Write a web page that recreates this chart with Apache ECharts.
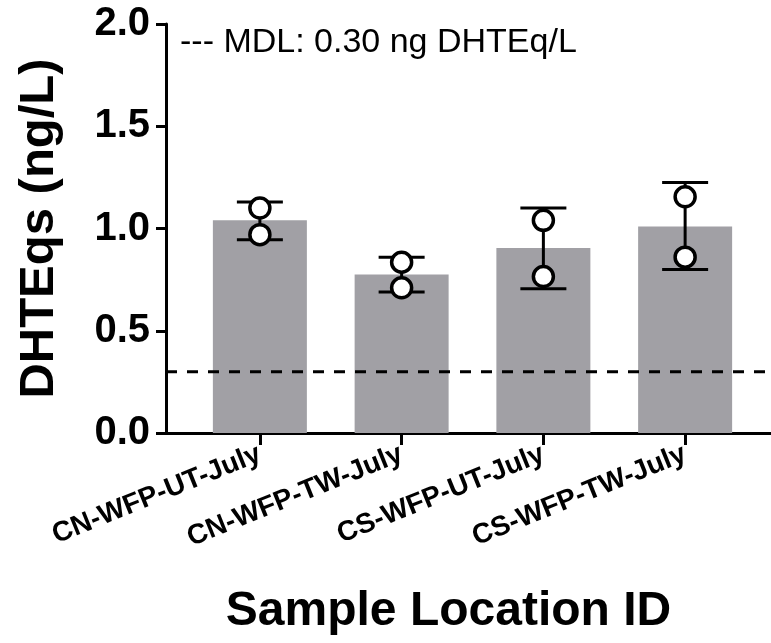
<!DOCTYPE html>
<html>
<head>
<meta charset="utf-8">
<script src="https://cdn.jsdelivr.net/npm/echarts@6/dist/echarts.min.js"></script>
<style>
html,body{margin:0;padding:0;background:#fff;}
#chart{width:771px;height:643px;}
</style>
</head>
<body>
<div id="chart"></div>
<script>
// ---- data ----
var categories = ['CN-WFP-UT-July', 'CN-WFP-TW-July', 'CS-WFP-UT-July', 'CS-WFP-TW-July'];
var means    = [1.04, 0.775, 0.905, 1.01];
var errLow   = [0.945, 0.69, 0.705, 0.80];
var errHigh  = [1.13, 0.86, 1.10, 1.225];
var rep1     = [1.10, 0.835, 1.04, 1.155];
var rep2     = [0.97, 0.71, 0.765, 0.86];
var mdlValue = 0.30;
var yTicks   = [0, 0.5, 1.0, 1.5, 2.0];
var mdlText  = '--- MDL: 0.30 ng DHTEq/L';

var FONT = '"Liberation Sans", Arial, Helvetica, sans-serif';

var errData = categories.map(function (c, i) { return [i, errLow[i], errHigh[i]]; });
var pointData = [];
categories.forEach(function (c, i) { pointData.push([i, rep1[i]]); pointData.push([i, rep2[i]]); });

var chart = echarts.init(document.getElementById('chart'), null, {renderer: 'canvas'});
var option = {
  animation: false,
  backgroundColor: '#fff',
  graphic: [{
    type: 'text', left: 180, top: 26, z: 100,
    style: { text: mdlText, font: '34px ' + FONT, fill: '#000' }
  }],
  grid: [
    { left: 189, right: 15, top: 24, bottom: 210 },
    { left: 166, right: 0, top: 24, bottom: 210 }
  ],
  xAxis: [
    {
      type: 'category', gridIndex: 0, data: categories,
      axisLine: { show: false },
      axisTick: { show: true, alignWithLabel: true, length: 12, lineStyle: { color: '#000', width: 3 } },
      axisLabel: { interval: 0, rotate: 22, margin: 20, color: '#000', fontSize: 28, fontWeight: 'bold', fontFamily: FONT },
      splitLine: { show: false }
    },
    {
      type: 'value', gridIndex: 1, min: 0, max: 1,
      axisLine: { show: true, onZero: false, lineStyle: { color: '#000', width: 3 } },
      axisTick: { show: false }, axisLabel: { show: false }, splitLine: { show: false },
      name: 'Sample Location ID', nameLocation: 'middle', nameGap: 155,
      nameTextStyle: { color: '#000', fontSize: 48, fontWeight: 'bold', fontFamily: FONT, padding: [0, 40, 0, 0] }
    }
  ],
  yAxis: [
    { type: 'value', gridIndex: 0, min: 0, max: 2, show: false },
    {
      type: 'value', gridIndex: 1, min: 0, max: 2, interval: 0.5,
      axisLine: { show: true, lineStyle: { color: '#000', width: 3 } },
      axisTick: { show: true, length: 10, lineStyle: { color: '#000', width: 3 } },
      axisLabel: { margin: 16, color: '#000', fontSize: 40, fontWeight: 'bold', fontFamily: FONT,
        formatter: function (v) { return v.toFixed(1); } },
      splitLine: { show: false },
      name: 'DHTEqs (ng/L)', nameLocation: 'middle', nameGap: 102, nameRotate: 90,
      nameTextStyle: { color: '#000', fontSize: 49, fontWeight: 'bold', fontFamily: FONT }
    }
  ],
  series: [
    {
      type: 'bar', xAxisIndex: 0, yAxisIndex: 0, data: means, barWidth: 94,
      itemStyle: { color: '#a1a0a5' }, z: 2
    },
    {
      type: 'custom', xAxisIndex: 0, yAxisIndex: 0, data: errData, z: 3,
      renderItem: function (params, api) {
        var x = api.value(0);
        var lo = api.coord([x, api.value(1)]);
        var hi = api.coord([x, api.value(2)]);
        var hw = 23;
        var st = { stroke: '#000', lineWidth: 3, fill: null };
        return {
          type: 'group',
          children: [
            { type: 'line', shape: { x1: lo[0], y1: lo[1], x2: hi[0], y2: hi[1] }, style: st },
            { type: 'line', shape: { x1: lo[0] - hw, y1: lo[1], x2: lo[0] + hw, y2: lo[1] }, style: st },
            { type: 'line', shape: { x1: hi[0] - hw, y1: hi[1], x2: hi[0] + hw, y2: hi[1] }, style: st }
          ]
        };
      }
    },
    {
      type: 'scatter', xAxisIndex: 0, yAxisIndex: 0, data: pointData, z: 4,
      symbol: 'circle', symbolSize: 20,
      itemStyle: { color: '#fff', borderColor: '#000', borderWidth: 3.5, opacity: 1 }
    },
    {
      type: 'line', xAxisIndex: 1, yAxisIndex: 1, z: 5,
      data: [[0, mdlValue], [1, mdlValue]], symbol: 'none',
      lineStyle: { color: '#000', width: 3, type: [11, 10] }
    }
  ]
};
chart.setOption(option);
</script>
</body>
</html>
